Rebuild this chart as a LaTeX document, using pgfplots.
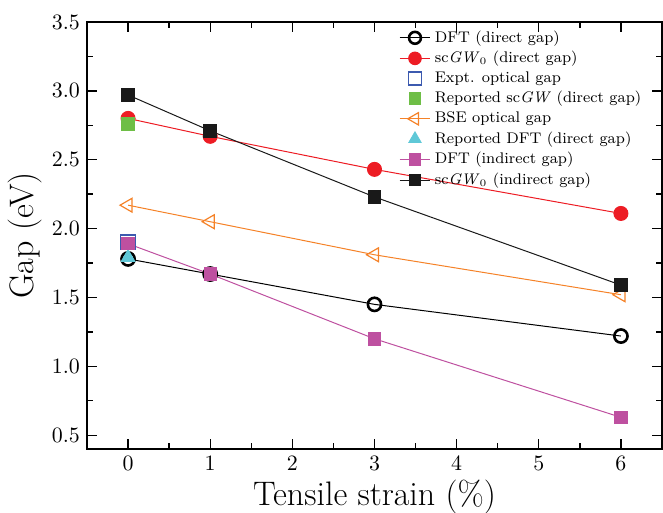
\documentclass[border=0pt]{standalone}
\usepackage{pgfplots}
\pgfplotsset{compat=1.18}

\definecolor{cred}{RGB}{237,28,36}
\definecolor{cblue}{RGB}{60,90,175}
\definecolor{cgreen}{RGB}{110,190,70}
\definecolor{corange}{RGB}{245,130,40}
\definecolor{ccyan}{RGB}{95,200,215}
\definecolor{cmag}{RGB}{190,80,160}
\definecolor{cblk}{RGB}{25,25,25}

\begin{document}
\begin{tikzpicture}
\useasboundingbox (-43.5pt,-32pt) rectangle (288pt,224.5pt);
\begin{axis}[
    at={(0,0)}, anchor=south west,
    scale only axis,
    width=287.5pt, height=213.5pt,
    xmin=-0.5, xmax=6.5,
    ymin=0.4, ymax=3.5,
    xtick={0,1,...,6},
    ytick={0.5,1.0,...,3.5},
    minor x tick num=1,
    minor y tick num=1,
    tick align=inside,
    major tick length=5pt,
    minor tick length=3pt,
    axis line style={line width=0.8pt},
    tick style={line width=0.7pt, black},
    yticklabel style={/pgf/number format/fixed, /pgf/number format/fixed zerofill, /pgf/number format/precision=1},
    ticklabel style={font=\fontsize{10.5}{12}\selectfont},
    xlabel={Tensile strain (\%)},
    ylabel={Gap (eV)},
    label style={font=\fontsize{17}{20}\selectfont},
    xlabel style={yshift=2pt},
    ylabel style={yshift=-2pt},
    legend style={draw=none, fill=none, at={(0.975,0.995)}, anchor=north east,
        font=\fontsize{7.7}{9}\selectfont, row sep=-1.0pt, inner sep=1pt},
    legend cell align=left,
    legend image post style={scale=0.9},
]
\addplot[black, line width=0.5pt, mark=o, mark size=3.3pt, mark options={line width=1.3pt}]
    coordinates {(0,1.78) (1,1.67) (3,1.45) (6,1.22)};
\addlegendentry{DFT (direct gap)}
\addplot[cred, line width=0.5pt, mark=*, mark size=3.5pt, mark options={fill=cred, draw=cred}]
    coordinates {(0,2.80) (1,2.67) (3,2.43) (6,2.11)};
\addlegendentry{sc\textit{GW}$_0$ (direct gap)}
\addplot[only marks, cblue, mark=square, mark size=3.7pt, mark options={line width=0.7pt}]
    coordinates {(0,1.90)};
\addlegendentry{Expt. optical gap}
\addplot[only marks, cgreen, mark=square*, mark size=3.2pt, mark options={fill=cgreen, draw=cgreen}]
    coordinates {(0,2.76)};
\addlegendentry{Reported sc\textit{GW} (direct gap)}
\addplot[corange, line width=0.5pt, mark=triangle, mark size=4pt, mark options={rotate=90, line width=0.6pt}]
    coordinates {(0,2.17) (1,2.05) (3,1.81) (6,1.52)};
\addlegendentry{BSE optical gap}
\addplot[only marks, ccyan, mark=triangle*, mark size=4pt, mark options={fill=ccyan, draw=ccyan}]
    coordinates {(0,1.79)};
\addlegendentry{Reported DFT (direct gap)}
\addplot[cmag, line width=0.5pt, mark=square*, mark size=3.1pt, mark options={fill=cmag, draw=cmag}]
    coordinates {(0,1.89) (1,1.67) (3,1.20) (6,0.63)};
\addlegendentry{DFT (indirect gap)}
\addplot[cblk, line width=0.5pt, mark=square*, mark size=3.2pt, mark options={fill=cblk, draw=cblk}]
    coordinates {(0,2.97) (1,2.71) (3,2.23) (6,1.59)};
\addlegendentry{sc\textit{GW}$_0$ (indirect gap)}
\end{axis}
\end{tikzpicture}
\end{document}
